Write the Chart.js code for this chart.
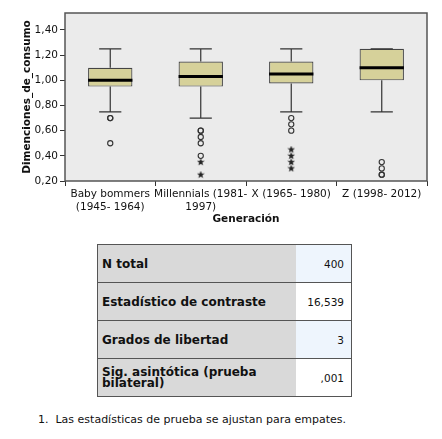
<!DOCTYPE html>
<html>
<head>
<meta charset="utf-8">
<script src="https://cdn.jsdelivr.net/npm/chart.js@4/dist/chart.umd.min.js"></script>
<style>
  html, body { margin:0; padding:0; background:#fff; width:442px; height:439px; overflow:hidden; }
  #wrap { position:absolute; left:0; top:0; width:442px; height:230px; }
  table { position:absolute; left:97px; top:244px; width:254px; border-collapse:collapse; table-layout:fixed;
          font-family:"DejaVu Sans", sans-serif; color:#111; }
  td { border-top:1.5px solid #555; border-bottom:1.5px solid #555; height:38px; padding:0; box-sizing:border-box; }
  td.l { background:#d9d9d9; font-weight:bold; font-size:12px; border-left:1.5px solid #555; padding-left:4px; }
  td.r { text-align:right; font-size:10.5px; border-right:1.5px solid #555; padding-right:7px; }
  tr.b td.r { background:#eef5fd; }
  tr.w td.r { background:#fff; }
  td.two { line-height:11px; }
  #note { position:absolute; left:38px; top:413px; font-family:"DejaVu Sans", sans-serif; font-size:11px; color:#111; white-space:pre; }
</style>
</head>
<body>
<div id="wrap"><canvas id="c" width="442" height="230"></canvas></div>
<table>
  <colgroup><col style="width:198px"><col style="width:56px"></colgroup>
  <tr class="b"><td class="l">N total</td><td class="r">400</td></tr>
  <tr class="w"><td class="l">Estadístico de contraste</td><td class="r">16,539</td></tr>
  <tr class="b"><td class="l">Grados de libertad</td><td class="r">3</td></tr>
  <tr class="w"><td class="l two">Sig. asintótica (prueba<br>bilateral)</td><td class="r">,001</td></tr>
</table>
<div id="note">1.  Las estadísticas de prueba se ajustan para empates.</div>
<script>
// ---- data ----
const categories = [["Baby bommers","(1945- 1964)"],["Millennials (1981-","1997)"],["X (1965- 1980)"],["Z (1998- 2012)"]];
const catKeys = ["Baby","Millennials","X","Z"];
const whiskerMin = [0.75, 0.70, 0.75, 0.75];
const q1 = [0.95, 0.95, 0.975, 1.00];
const median = [1.00, 1.03, 1.05, 1.10];
const q3 = [1.10, 1.15, 1.15, 1.25];
const whiskerMax = [1.25, 1.25, 1.25, 1.25];
const outlierCircles = [[0.70, 0.70, 0.50], [0.60, 0.60, 0.55, 0.50, 0.40], [0.70, 0.65, 0.60], [0.35, 0.30, 0.25, 0.25]];
const outlierStars = [[], [0.35, 0.25], [0.45, 0.40, 0.35, 0.30], []];
const yTicks = [0.20, 0.40, 0.60, 0.80, 1.00, 1.20, 1.40];
const yMin = 0.20, yMax = 1.535;

// star image for extreme values
function makeStar(size) {
  const cv = document.createElement('canvas');
  cv.width = size; cv.height = size;
  const g = cv.getContext('2d');
  const cx = size/2, cy = size/2, R = size/2, r = R*0.42;
  g.beginPath();
  for (let i=0;i<10;i++) {
    const a = -Math.PI/2 + i*Math.PI/5;
    const rr = i%2===0 ? R : r;
    g.lineTo(cx + rr*Math.cos(a), cy + rr*Math.sin(a));
  }
  g.closePath();
  g.fillStyle = '#222';
  g.fill();
  return cv;
}
const starImg = makeStar(8);

const circlePts = [], starPts = [];
outlierCircles.forEach((arr,i)=>arr.forEach(v=>circlePts.push({x:catKeys[i], y:v})));
outlierStars.forEach((arr,i)=>arr.forEach(v=>starPts.push({x:catKeys[i], y:v})));

const bgPlugin = {
  id:'bg',
  beforeDatasetsDraw(chart){
    const {ctx, chartArea:a} = chart;
    ctx.save(); ctx.fillStyle = '#ebebeb';
    ctx.fillRect(a.left, a.top, a.right-a.left, a.bottom-a.top);
    ctx.restore();
  },
  afterDraw(chart){
    const {ctx, chartArea:a} = chart;
    ctx.save(); ctx.strokeStyle = '#555'; ctx.lineWidth = 1.5;
    ctx.strokeRect(a.left, a.top, a.right-a.left, a.bottom-a.top);
    ctx.restore();
  }
};

const boxPlugin = {
  id:'box',
  afterDatasetsDraw(chart){
    const {ctx} = chart;
    const ys = chart.scales.y;
    const meta = chart.getDatasetMeta(0);
    ctx.save();
    meta.data.forEach((bar,i)=>{
      const x = bar.x, w = bar.width;
      const px = v => ys.getPixelForValue(v);
      ctx.strokeStyle = '#333'; ctx.lineWidth = 1.2;
      ctx.beginPath();
      ctx.moveTo(x, px(q3[i])); ctx.lineTo(x, px(whiskerMax[i]));
      ctx.moveTo(x, px(q1[i])); ctx.lineTo(x, px(whiskerMin[i]));
      ctx.moveTo(x - w/4, px(whiskerMax[i])); ctx.lineTo(x + w/4, px(whiskerMax[i]));
      ctx.moveTo(x - w/4, px(whiskerMin[i])); ctx.lineTo(x + w/4, px(whiskerMin[i]));
      ctx.stroke();
      ctx.strokeStyle = '#000'; ctx.lineWidth = 3;
      ctx.beginPath();
      ctx.moveTo(x - w/2, px(median[i])); ctx.lineTo(x + w/2, px(median[i]));
      ctx.stroke();
    });
    ctx.restore();
  }
};

const FONT = '"DejaVu Sans", sans-serif';
new Chart(document.getElementById('c'), {
  type:'bar',
  data:{
    labels: catKeys,
    datasets:[
      { type:'bar', data: q1.map((v,i)=>[v, q3[i]]), backgroundColor:'#d6d19a', borderColor:'#444',
        borderWidth:1.2, borderSkipped:false, barPercentage:0.49, categoryPercentage:1, order:2 },
      { type:'line', data: circlePts, showLine:false, pointStyle:'circle', pointRadius:2.6,
        pointBackgroundColor:'rgba(0,0,0,0)', pointBorderColor:'#333', pointBorderWidth:1.1, order:1 },
      { type:'line', data: starPts, showLine:false, pointStyle:starImg, pointRadius:4, order:1 }
    ]
  },
  options:{
    responsive:false, animation:false,
    layout:{ padding:{ left:17, top:13, right:15, bottom:0 } },
    plugins:{ legend:{display:false}, tooltip:{enabled:false} },
    scales:{
      x:{
        type:'category',
        grid:{ drawOnChartArea:false, drawTicks:true, tickLength:5, color:'#333' },
        border:{ display:false },
        ticks:{ font:{family:FONT, size:10.5}, color:'#111', padding:2, maxRotation:0, autoSkip:false,
                callback:(v,i)=>categories[i] },
        title:{ display:true, text:'Generación', font:{family:FONT, size:10.5, weight:'bold'}, color:'#111', padding:{top:4,bottom:4} },
        afterFit(s){ s.height = 49; }
      },
      y:{
        min:yMin, max:yMax,
        afterBuildTicks(s){ s.ticks = yTicks.map(v=>({value:v})); },
        grid:{ drawOnChartArea:false, drawTicks:true, tickLength:5, color:'#333' },
        border:{ display:false },
        ticks:{ font:{family:FONT, size:10.5}, color:'#111', padding:2,
                callback:v=>Number(v).toFixed(2).replace('.',',') },
        title:{ display:true, text:'Dimenciones_de_consumo', font:{family:FONT, size:10.5, weight:'bold'}, color:'#111', padding:{top:4,bottom:4} },
        afterFit(s){ s.width = 48; }
      }
    }
  },
  plugins:[bgPlugin, boxPlugin]
});
</script>
</body>
</html>
